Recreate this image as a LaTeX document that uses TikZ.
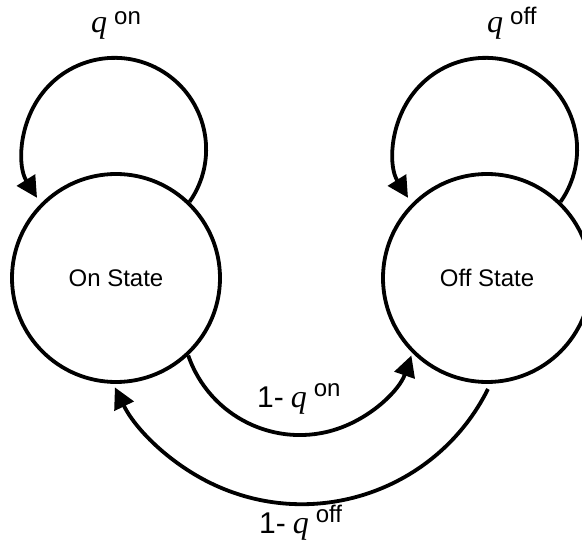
\documentclass[tikz,border=0pt]{standalone}
\usepackage{fontspec}
\setmainfont{Liberation Sans}
\newfontfamily\qfont{Liberation Serif}
\usetikzlibrary{arrows.meta}
\begin{document}
\begin{tikzpicture}[x=1pt,y=1pt,
  state/.style={draw, circle, line width=3.8pt, minimum size=208pt, inner sep=0pt,
    font=\fontsize{24}{28}\selectfont},
  conn/.style={line width=3.8pt, -{Triangle[length=21pt,width=21pt]}},
  lbl/.style={anchor=base west, inner sep=0pt, font=\fontsize{24}{28}\selectfont}]
\useasboundingbox (0,0) rectangle (582,-540);
\node[state] (on) at (116,-278) {On State};
\node[state] (off) at (487,-278) {Off State};
% self loops
\draw[conn] (on.46) arc[start angle=-35, end angle=212, radius=91.5pt];
\draw[conn] (off.46) arc[start angle=-35, end angle=212, radius=91.5pt];
% transitions
\draw[conn] (on.-47) arc[start angle=199, end angle=341, radius=118pt];
\coordinate (s2) at (488,-389);
\draw[conn] (s2) arc[start angle=333.5, end angle=206, radius=208pt];
% labels
\node[lbl] (lqon) at (91,-33) {{\qfont\itshape\fontsize{32}{34}\selectfont q}\hspace{7pt}\raisebox{8pt}{on}};
\node[lbl] (lqoff) at (487,-33) {{\qfont\itshape\fontsize{32}{34}\selectfont q}\hspace{7pt}\raisebox{8pt}{off}};
\node[lbl] (l1on) at (257,-408) {{\fontsize{30}{34}\selectfont 1-}\hspace{7pt}{\qfont\itshape\fontsize{32}{34}\selectfont q}\hspace{7pt}\raisebox{11pt}{on}};
\node[lbl] (l1off) at (259,-533) {{\fontsize{30}{34}\selectfont 1-}\hspace{7pt}{\qfont\itshape\fontsize{32}{34}\selectfont q}\hspace{7pt}\raisebox{11pt}{off}};
\end{tikzpicture}
\end{document}
